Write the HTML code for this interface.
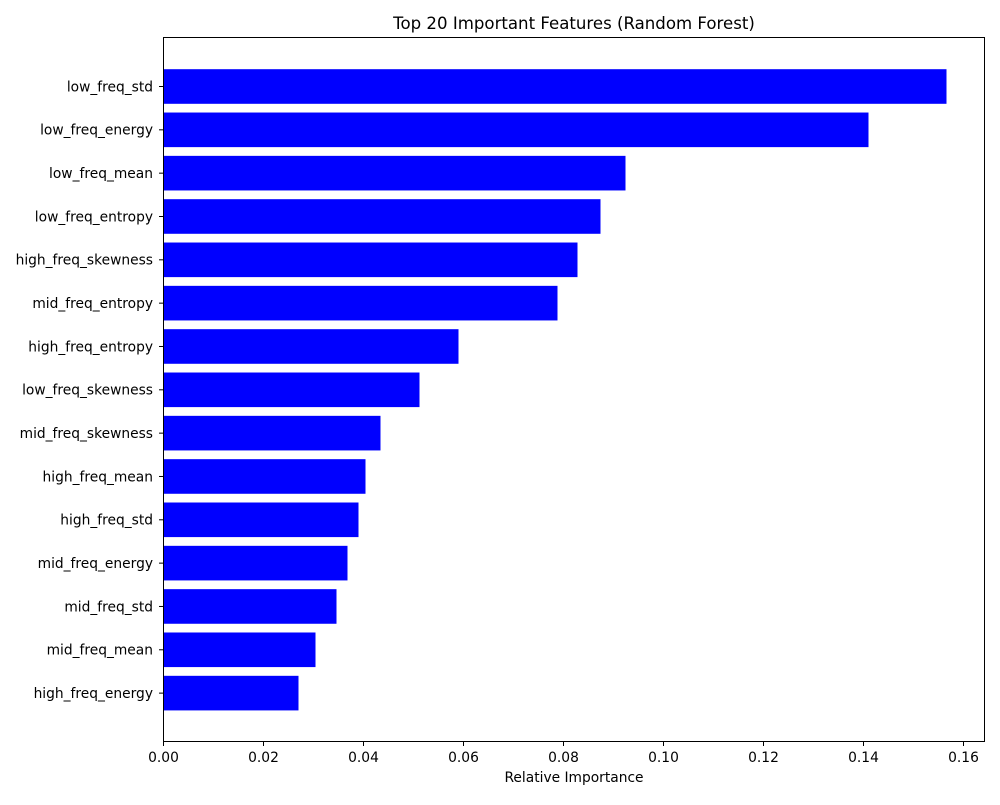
<!DOCTYPE html>
<html><head><meta charset="utf-8"><style>
body{margin:0;background:#fff;font-family:"Liberation Sans","DejaVu Sans",sans-serif}
</style></head><body>
<svg id="chart" width="1000" height="800" xmlns="http://www.w3.org/2000/svg" font-family="DejaVu Sans, Liberation Sans, sans-serif">
<text x="574" y="29" font-size="16.6" text-anchor="middle">Top 20 Important Features (Random Forest)</text>
<g id="bars"></g><g id="ticks"></g>
<rect x="163.5" y="37.5" width="821" height="704" fill="none" stroke="#000" stroke-width="1"/>
<text x="574" y="782" font-size="13.8" text-anchor="middle">Relative Importance</text>
</svg>
<script>
const features=["low_freq_std","low_freq_energy","low_freq_mean","low_freq_entropy","high_freq_skewness","mid_freq_entropy","high_freq_entropy","low_freq_skewness","mid_freq_skewness","high_freq_mean","high_freq_std","mid_freq_energy","mid_freq_std","mid_freq_mean","high_freq_energy"];
const importances=[0.1566,0.141,0.0924,0.0874,0.0828,0.0788,0.059,0.0512,0.0434,0.0404,0.039,0.0368,0.0346,0.0304,0.027];
const xTicks=[0,0.02,0.04,0.06,0.08,0.10,0.12,0.14,0.16];
const xTickLabels=["0.00","0.02","0.04","0.06","0.08","0.10","0.12","0.14","0.16"];
const NS="http://www.w3.org/2000/svg";
const x=v=>163.5+v*5000;
const y=i=>86.5+i*43.33;
const bars=document.getElementById('bars'),ticks=document.getElementById('ticks');
function mk(t,a,p){const e=document.createElementNS(NS,t);for(const k in a)e.setAttribute(k,a[k]);p.appendChild(e);return e;}
features.forEach((f,i)=>{
 const r=mk('rect',{x:x(0),y:y(i)-17.3,width:x(importances[i])-x(0),height:34.6,fill:'#0000ff'},bars);
 
 
 const l=mk('line',{x1:163.5,x2:159,y1:y(i),y2:y(i),stroke:'#000'},ticks);
 
 
 const t=mk('text',{x:153,y:y(i)+4.8,'font-size':13.8,'text-anchor':'end'},ticks);
 t.textContent=f;
 
 
});
xTicks.forEach((v,i)=>{
 const l=mk('line',{x1:x(v),x2:x(v),y1:741.5,y2:746,stroke:'#000'},ticks);
 
 
 const t=mk('text',{x:x(v),y:762,'font-size':13.8,'text-anchor':'middle'},ticks);
 t.textContent=xTickLabels[i];
 
 
});
</script>
</body></html>
